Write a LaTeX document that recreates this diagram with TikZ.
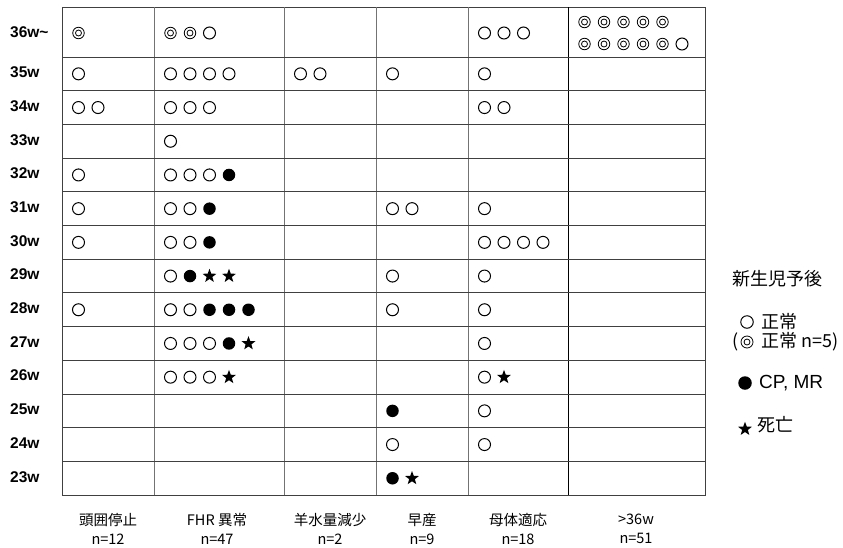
\documentclass[tikz,border=0pt]{standalone}
\usepackage{fontspec}
\setmainfont{Liberation Sans}
\newfontfamily\jp{Noto Sans CJK JP}
\usetikzlibrary{shapes.geometric, positioning}
\tikzstyle{rowlab} = [anchor=west, inner sep=0pt, font=\fontsize{15.5}{15.5}\selectfont\bfseries]
\tikzstyle{collab} = [align=center, inner sep=0pt, font=\jp\fontsize{14.5}{19}\selectfont]
\tikzstyle{legtxt} = [anchor=west, inner sep=0pt, font=\jp\fontsize{18}{18}\selectfont]
\tikzstyle{grid} = [draw=black!75, line width=0.9pt]
\tikzstyle{sym-o} = [draw, circle, minimum size=12pt, inner sep=0pt, line width=1pt]
\tikzstyle{sym-d} = [draw, circle, minimum size=11.5pt, inner sep=0pt, line width=0.8pt,
  path picture={\draw[line width=0.8pt] (path picture bounding box.center) circle (3pt);}]
\tikzstyle{sym-c} = [fill, circle, minimum size=12.5pt, inner sep=0pt]
\tikzstyle{sym-s} = [fill, star, star points=5, star point ratio=2.4, minimum size=14.5pt, inner sep=0pt]

\begin{document}
\begin{tikzpicture}[x=1pt, y=-1pt, node distance=8pt]
    \useasboundingbox (0,0) rectangle (843,547);
    % table
    \draw[grid] (62,7) rectangle (705,495);
    \foreach \x in {154,284,376,468}
        \draw[grid, draw=black!55] (\x,7) -- (\x,495);
    \draw[grid, draw=black] (568,7) -- (568,495);
    \foreach \k in {0,...,12}
        \draw[grid] (62,{57+33.7*\k}) -- (705,{57+33.7*\k});
    % column starts
    \foreach \x [count=\c] in {62,154,284,376,468,568}
        \coordinate (c\c) at (\x+16.5,0);
    % rows
    \node[rowlab] (w0) at (10,32) {36w\textasciitilde};
    \coordinate (y0) at (0,33);
    \coordinate (y0a) at (0,22);
    \coordinate (y0b) at (0,44);
    \foreach \w [count=\r] in {35,34,33,32,31,30,29,28,27,26,25,24,23} {
        \coordinate (y\r) at (0,{57+33.7*(\r-0.5)});
        \node[rowlab] (w\r) at (10,{57+33.7*(\r-0.5)-1.5}) {\w w};
    }
    % o = normal, d = normal n=5, c = CP/MR, s = death
    \foreach \r/\c/\s in {0/1/{d}, 0/2/{d,d,o}, 0/5/{o,o,o}, 0a/6/{d,d,d,d,d}, 0b/6/{d,d,d,d,d,o},
        1/1/{o}, 1/2/{o,o,o,o}, 1/3/{o,o}, 1/4/{o}, 1/5/{o},
        2/1/{o,o}, 2/2/{o,o,o}, 2/5/{o,o},
        3/2/{o},
        4/1/{o}, 4/2/{o,o,o,c},
        5/1/{o}, 5/2/{o,o,c}, 5/4/{o,o}, 5/5/{o},
        6/1/{o}, 6/2/{o,o,c}, 6/5/{o,o,o,o},
        7/2/{o,c,s,s}, 7/4/{o}, 7/5/{o},
        8/1/{o}, 8/2/{o,o,c,c,c}, 8/4/{o}, 8/5/{o},
        9/2/{o,o,o,c,s}, 9/5/{o},
        10/2/{o,o,o,s}, 10/5/{o,s},
        11/4/{c}, 11/5/{o},
        12/4/{o}, 12/5/{o},
        13/4/{c,s}}
        \foreach \t [count=\i] in \s
            \node[sym-\t, xshift={(\i-1)*19.5pt}] (s-\r-\c-\i) at (y\r -| c\c) {};
    % column labels
    \node[collab] (lab1) at (108,529) {頭囲停止\\n=12};
    \node[collab] (lab2) at (217,529) {FHR 異常\\n=47};
    \node[collab] (lab3) at (330,529) {羊水量減少\\n=2};
    \node[collab] (lab4) at (422,529) {早産\\n=9};
    \node[collab] (lab5) at (518,529) {母体適応\\n=18};
    \node[collab] (lab6) at (636,529) {>36w\\n=51};
    % legend
    \node[legtxt] (lgd) at (732,279) {新生児予後};
    \node[sym-o, minimum size=12.5pt] (lgo) at (747,322) {};
    \node[legtxt, right=of lgo] (lgotxt) {正常};
    \node[sym-d, minimum size=12pt] (lgd5) at (747,342) {};
    \node[legtxt, left=2pt of lgd5] (lgpar) {(};
    \node[legtxt, right=of lgd5] (lgdtxt) {正常 n=5)};
    \node[sym-c, minimum size=13.5pt] (lgc) at (745,383) {};
    \node[legtxt, right=7pt of lgc, font=\fontsize{19}{19}\selectfont] (lgctxt) {CP, MR};
    \node[sym-s] (lgs) at (745,429) {};
    \node[legtxt, right=of lgs, yshift=4pt] (lgstxt) {死亡};
\end{tikzpicture}
\end{document}
